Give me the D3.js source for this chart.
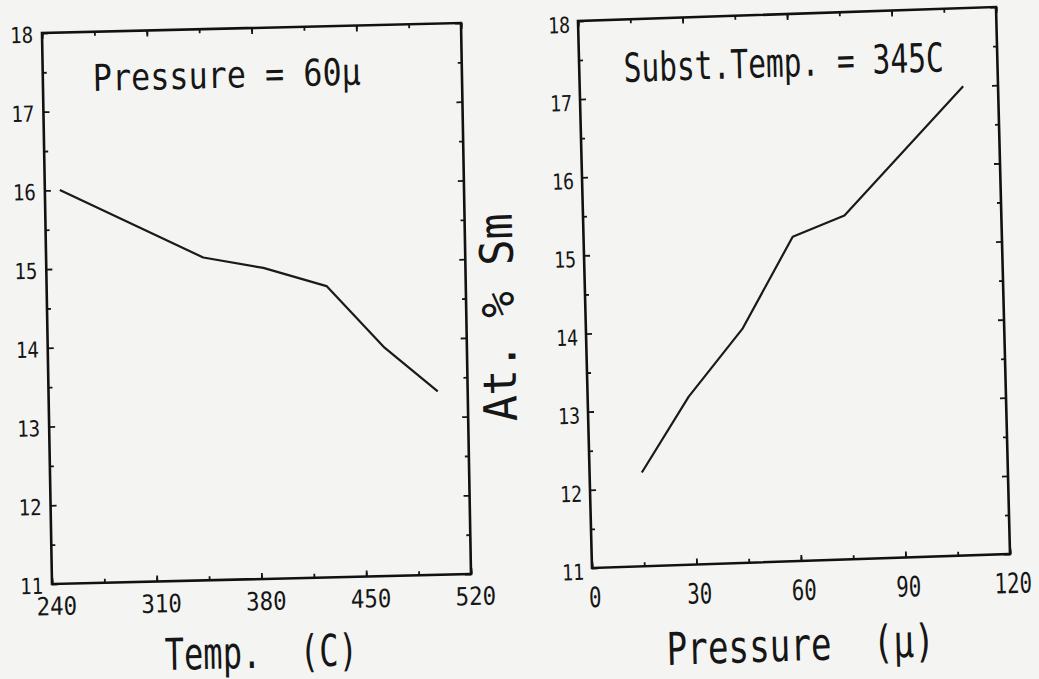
<!DOCTYPE html>
<html>
<head>
<meta charset="utf-8">
<script src="https://cdn.jsdelivr.net/npm/d3@7"></script>
<style>
  html, body { margin: 0; padding: 0; background: #f4f4f2; }
  svg { display: block; }
  text { font-family: "DejaVu Sans Mono", monospace; fill: #161616; white-space: pre; }
</style>
</head>
<body>
<div id="chart"></div>
<script>
// left plot: Sm content vs substrate temperature (pressure 60 micron)
const tempC = [250, 345, 385, 427, 465, 500];
const smByTemp = [16.0, 15.1, 14.95, 14.7, 13.9, 13.33];
// right plot: Sm content vs pressure (substrate at 345C)
const pressureMu = [15, 29, 45, 60, 75, 110];
const smByPressure = [12.2, 13.15, 14.0, 15.15, 15.4, 17.0];

const tempTicks = [240, 310, 380, 450, 520];
const pressureTicks = [0, 30, 60, 90, 120];
const smTicks = [11, 12, 13, 14, 15, 16, 17, 18];

const style = {
  frame: { color: '#111', width: 2.6 },
  line: { color: '#1a1a1a', width: 2.2 },
  tick: { major: 6, minor: 4, width: 1.8 },
};

// the scan is a bit skewed, so every panel gets its own affine frame
const panels = [
  {
    origin: [42, 33], xv: [419, -10], yv: [10, 551],
    xDomain: [240, 520], xTicks: tempTicks, xMinor: d3.range(240, 521, 35),
    xs: tempC, ys: smByTemp,
    yLabel: { size: 22, perChar: 11.5, dx: -9, dy: 1 },
    xLabel: { size: 25, perChar: 13.5, dx: 4, base: 31 },
    texts: [
      { t: 'Pressure = 60\u03bc', x: 93, y: 91, size: 37, len: 268 },
      { t: 'Temp.  (C)', x: 165, y: 670, size: 44, len: 193 },
    ],
  },
  {
    origin: [578, 21], xv: [418, -14], yv: [14, 547],
    xDomain: [0, 120], xTicks: pressureTicks, xMinor: d3.range(0, 121, 15),
    xs: pressureMu, ys: smByPressure,
    yLabel: { size: 22, perChar: 11, dx: -8, dy: 3 },
    xLabel: { size: 28, perChar: 12.5, dx: 2, base: 39 },
    texts: [
      { t: 'Subst.Temp. = 345C', x: 624, y: 82, size: 40, len: 320 },
      { t: 'Pressure  (\u03bc)', x: 667, y: 665, size: 45, len: 268 },
      { t: 'At. % Sm', x: 517, y: 421, size: 46, len: 208, rotate: -90 },
    ],
  },
];

// squeeze a text horizontally to a target width (plotter font is narrow)
function fitWidth(node, len, base) {
  const natural = node.getComputedTextLength();
  const sx = natural > 0 ? len / natural : 1;
  d3.select(node).attr('transform', `${base || ''} scale(${sx},1)`);
}

const svg = d3.select('#chart').append('svg')
  .attr('width', 1039)
  .attr('height', 679);

svg.append('rect')
  .attr('width', 1039)
  .attr('height', 679)
  .attr('fill', '#f4f4f2');

panels.forEach((p) => {
  const W = p.xv[0];
  const H = p.yv[1];
  const a = 1, b = p.xv[1] / W, c = p.yv[0] / H, d = 1;
  const det = a * d - b * c;
  const toLocal = (gx, gy) => {
    const dx = gx - p.origin[0], dy = gy - p.origin[1];
    return [(d * dx - c * dy) / det, (a * dy - b * dx) / det];
  };

  const g = svg.append('g')
    .attr('transform', `matrix(${a},${b},${c},${d},${p.origin[0]},${p.origin[1]})`);

  const x = d3.scaleLinear().domain(p.xDomain).range([0, W]);
  const y = d3.scaleLinear().domain([11, 18]).range([H, 0]);
  const yMinor = d3.range(11.5, 18, 1);

  // ticks on all four sides, pointing inward
  const sides = [
    { axis: d3.axisBottom, scale: x, at: `translate(0,${H})`, major: p.xTicks, minor: p.xMinor, cls: 'x-bottom' },
    { axis: d3.axisTop, scale: x, at: 'translate(0,0)', major: p.xTicks, minor: p.xMinor, cls: 'x-top' },
    { axis: d3.axisLeft, scale: y, at: 'translate(0,0)', major: smTicks, minor: yMinor, cls: 'y-left' },
    { axis: d3.axisRight, scale: y, at: `translate(${W},0)`, major: smTicks, minor: yMinor, cls: 'y-right' },
  ];
  sides.forEach((s) => {
    g.append('g')
      .attr('class', s.cls + '-minor')
      .attr('transform', s.at)
      .call(s.axis(s.scale).tickValues(s.minor).tickSize(-style.tick.minor).tickFormat(''));
    g.append('g')
      .attr('class', s.cls)
      .attr('transform', s.at)
      .call(s.axis(s.scale).tickValues(s.major).tickSizeInner(-style.tick.major).tickSizeOuter(0)
        .tickFormat((s.cls === 'x-bottom' || s.cls === 'y-left') ? d3.format('d') : ''));
  });

  g.selectAll('.domain').remove();
  g.selectAll('.x-top text, .y-right text, [class$="-minor"] text').remove();
  g.selectAll('.tick line')
    .attr('stroke', '#151515')
    .attr('stroke-width', style.tick.width);

  g.selectAll('.tick text')
    .attr('fill', '#161616')
    .attr('font-family', '"DejaVu Sans Mono", monospace');

  g.selectAll('.x-bottom text')
    .attr('x', 0)
    .attr('y', 0)
    .attr('dy', 0)
    .attr('font-size', p.xLabel.size)
    .attr('text-anchor', 'middle')
    .each(function () {
      fitWidth(this, this.textContent.length * p.xLabel.perChar,
        `translate(${p.xLabel.dx},${p.xLabel.base})`);
    });

  g.selectAll('.y-left text')
    .attr('x', 0)
    .attr('y', 0)
    .attr('dy', '0.36em')
    .attr('font-size', p.yLabel.size)
    .attr('text-anchor', 'end')
    .each(function () {
      fitWidth(this, this.textContent.length * p.yLabel.perChar,
        `translate(${p.yLabel.dx},${p.yLabel.dy})`);
    });

  // frame
  g.append('rect')
    .attr('width', W)
    .attr('height', H)
    .attr('fill', 'none')
    .attr('stroke', style.frame.color)
    .attr('stroke-width', style.frame.width);

  // data line
  const pts = p.xs.map((v, i) => [v, p.ys[i]]);
  g.append('path')
    .datum(pts)
    .attr('fill', 'none')
    .attr('stroke', style.line.color)
    .attr('stroke-width', style.line.width)
    .attr('stroke-linejoin', 'round')
    .attr('d', d3.line().x((q) => x(q[0])).y((q) => y(q[1])));

  // annotation and axis titles
  p.texts.forEach((t) => {
    const [lx, ly] = toLocal(t.x, t.y);
    const base = `translate(${lx},${ly})` + (t.rotate ? ` rotate(${t.rotate})` : '');
    g.append('text')
      .attr('xml:space', 'preserve')
      .attr('font-size', t.size)
      .text(t.t)
      .each(function () { fitWidth(this, t.len, base); });
  });
});
</script>
</body>
</html>
